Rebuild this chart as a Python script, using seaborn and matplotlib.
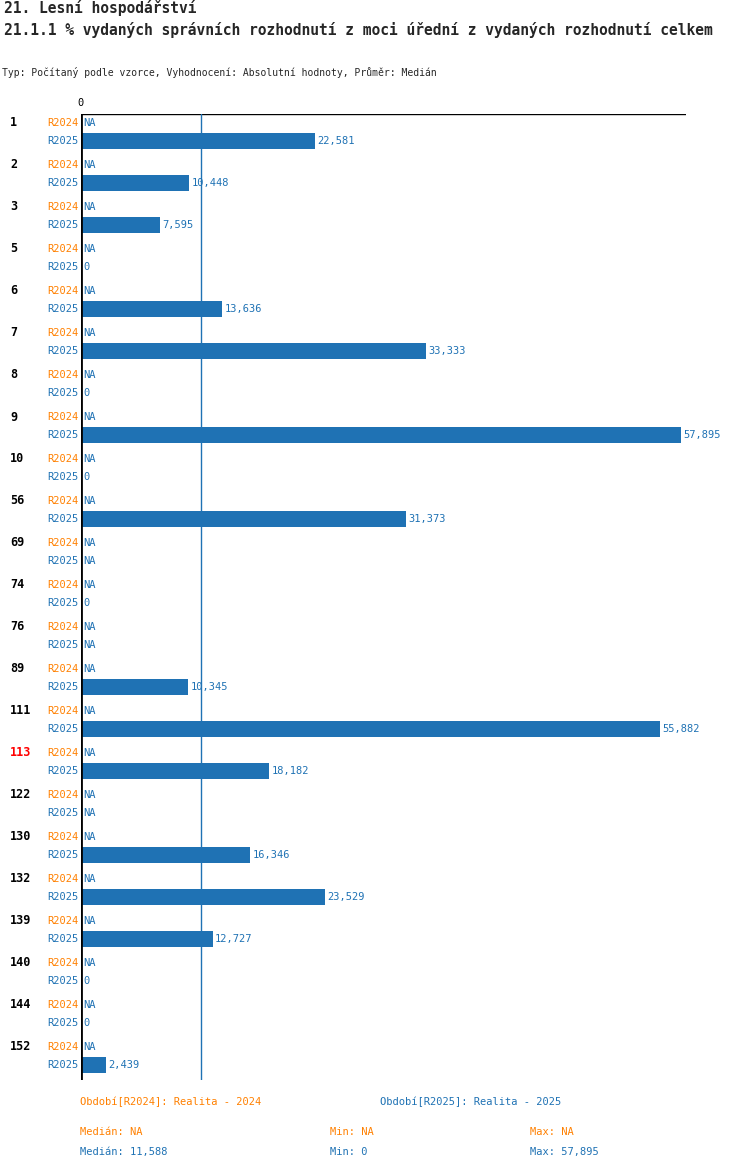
import matplotlib
matplotlib.use("Agg")
import matplotlib.pyplot as plt
import seaborn as sns
import pandas as pd
import numpy as np

groups = ["1","2","3","5","6","7","8","9","10","56","69","74","76","89","111","113","122","130","132","139","140","144","152"]
r2025 = [22.581,10.448,7.595,0,13.636,33.333,0,57.895,0,31.373,None,0,None,10.345,55.882,18.182,None,16.346,23.529,12.727,0,0,2.439]
highlight = "113"
median_val = 11.588

BLUE = "#1f72b4"
ORANGE = "#ff8000"
W, H = 750, 1170

sns.set_theme(style="white")
plt.rcParams["font.family"] = ["DejaVu Sans Mono", "DejaVu Sans"]

fig = plt.figure(figsize=(W/100, H/100), dpi=100)
top_px, bot_px, left_px, right_px = 114, 1080, 81, 686
ax = fig.add_axes([left_px/W, 1-bot_px/H, (right_px-left_px)/W, (bot_px-top_px)/H])

pos24 = [123 + 42*i for i in range(len(groups))]
pos25 = [141 + 42*i for i in range(len(groups))]
df = pd.DataFrame({"y": pos25, "v": [v if v is not None else np.nan for v in r2025]})
sns.barplot(data=df, x="v", y="y", orient="h", native_scale=True, color=BLUE,
            width=16/42, saturation=1, ax=ax, errorbar=None, linewidth=0)
xmax = 57.895 * (right_px-left_px) / 600
ax.set_xlim(0, xmax)
ax.set_ylim(bot_px, top_px)
ax.axis("off")
ax.axhline(top_px, color="black", lw=1)
ax.axvline(0, color="black", lw=2)
ax.axvline(median_val, color=BLUE, lw=1)

fs = 7.5
for g, y4, y5, v in zip(groups, pos24, pos25, r2025):
    fig.text(10/W, 1-y4/H, g, color=("red" if g == highlight else "black"),
             fontsize=8.5, fontweight="bold", va="center")
    fig.text(78/W, 1-y4/H, "R2024", color=ORANGE, fontsize=fs, va="center", ha="right")
    fig.text(78/W, 1-y5/H, "R2025", color=BLUE, fontsize=fs, va="center", ha="right")
    ax.text(0.2, y4, "NA", color=BLUE, fontsize=fs, va="center")
    if v is None:
        ax.text(0.2, y5, "NA", color=BLUE, fontsize=fs, va="center")
    else:
        lbl = "0" if v == 0 else f"{v:.3f}".replace(".", ",")
        ax.text(v + 0.2, y5, lbl, color=BLUE, fontsize=fs, va="center")

fig.text(80/W, 1-103/H, "0", fontsize=fs, ha="center", va="center", color="black")
fig.text(4/W, 1-8/H, "21. Lesní hospodářství", fontsize=10.5, fontweight="bold", va="center")
fig.text(4/W, 1-30/H, "21.1.1 % vydaných správních rozhodnutí z moci úřední z vydaných rozhodnutí celkem",
         fontsize=10.5, fontweight="bold", va="center")
fig.text(2/W, 1-72/H, "Typ: Počítaný podle vzorce, Vyhodnocení: Absolutní hodnoty, Průměr: Medián",
         fontsize=7, va="center")

fig.text(80/W, 1-1102/H, "Období[R2024]: Realita - 2024", color=ORANGE, fontsize=fs, va="center")
fig.text(380/W, 1-1102/H, "Období[R2025]: Realita - 2025", color=BLUE, fontsize=fs, va="center")
fig.text(80/W, 1-1132/H, "Medián: NA", color=ORANGE, fontsize=fs, va="center")
fig.text(330/W, 1-1132/H, "Min: NA", color=ORANGE, fontsize=fs, va="center")
fig.text(530/W, 1-1132/H, "Max: NA", color=ORANGE, fontsize=fs, va="center")
fig.text(80/W, 1-1152/H, "Medián: 11,588", color=BLUE, fontsize=fs, va="center")
fig.text(330/W, 1-1152/H, "Min: 0", color=BLUE, fontsize=fs, va="center")
fig.text(530/W, 1-1152/H, "Max: 57,895", color=BLUE, fontsize=fs, va="center")

fig.savefig("out.png", dpi=100)
